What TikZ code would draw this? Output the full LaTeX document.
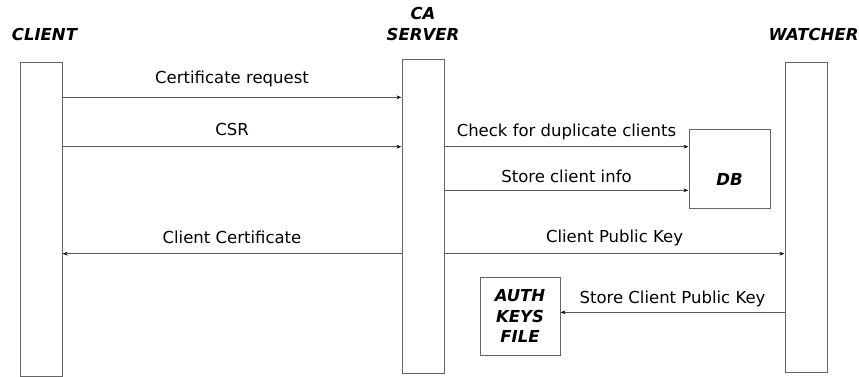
\documentclass[tikz,border=0pt]{standalone}
\usepackage{fontspec}
\setmainfont{DejaVu Sans}
\usetikzlibrary{arrows.meta}

\begin{document}
\begin{tikzpicture}[x=1pt, y=-1pt,
  font=\fontsize{16.5}{20.5}\selectfont,
  bar/.style={draw=black!60, line width=1pt, minimum width=42pt, inner sep=0pt},
  store/.style={draw=black!60, line width=1pt, minimum width=81pt, minimum height=78pt, inner sep=0pt},
  head/.style={font=\fontsize{16.5}{20.5}\selectfont\bfseries\itshape, align=center},
  msg/.style={draw=black!65, line width=1pt, -{Stealth[length=5pt, width=3.5pt, color=black]}},
  lbl/.style={anchor=base, yshift=#1},
  lbl/.default=10pt]
  \useasboundingbox (0, 0) rectangle (859, 377);
  \node[bar, minimum height=313pt] (client) at (41, 219.5) {};
  \node[bar, minimum height=313pt] (ca) at (423, 216.5) {};
  \node[bar, minimum height=309pt] (watcher) at (806, 217.5) {};
  \node[head] (clienthd) at (44.5, 34.5) {CLIENT};
  \node[head] (cahd) at (423, 24) {CA\\SERVER};
  \node[head] (watcherhd) at (813.5, 34.5) {WATCHER};
  \node[store] (db) at (729.5, 169) {};
  \node[head] (dbname) at ([yshift=-10.5pt]db.center) {DB};
  \node[store, minimum width=80pt, head] (keys) at (520, 316) {AUTH\\KEYS\\FILE};
  \draw[msg] (client.east |- 0, 97.3) -- node[lbl=14pt] (m1) {Certificate request} (ca.west |- 0, 97.3);
  \draw[msg] (client.east |- 0, 146.7) -- node[lbl=11pt] (m2) {CSR} (ca.west |- 0, 146.7);
  \draw[msg] (ca.east |- 0, 146.7) -- node[lbl] (m3) {Check for duplicate clients} (db.west |- 0, 146.7);
  \draw[msg] (ca.east |- 0, 190.3) -- node[lbl=8pt] (m4) {Store client info} (db.west |- 0, 190.3);
  \draw[msg] (ca.west |- 0, 253.7) -- node[lbl] (m5) {Client Certificate} (client.east |- 0, 253.7);
  \draw[msg] (ca.east |- 0, 253.7) -- node[lbl=11pt] (m6) {Client Public Key} (watcher.west |- 0, 253.7);
  \draw[msg] (watcher.west |- 0, 312.3) -- node[lbl=9pt] (m7) {Store Client Public Key} (keys.east |- 0, 312.3);
\end{tikzpicture}
\end{document}
